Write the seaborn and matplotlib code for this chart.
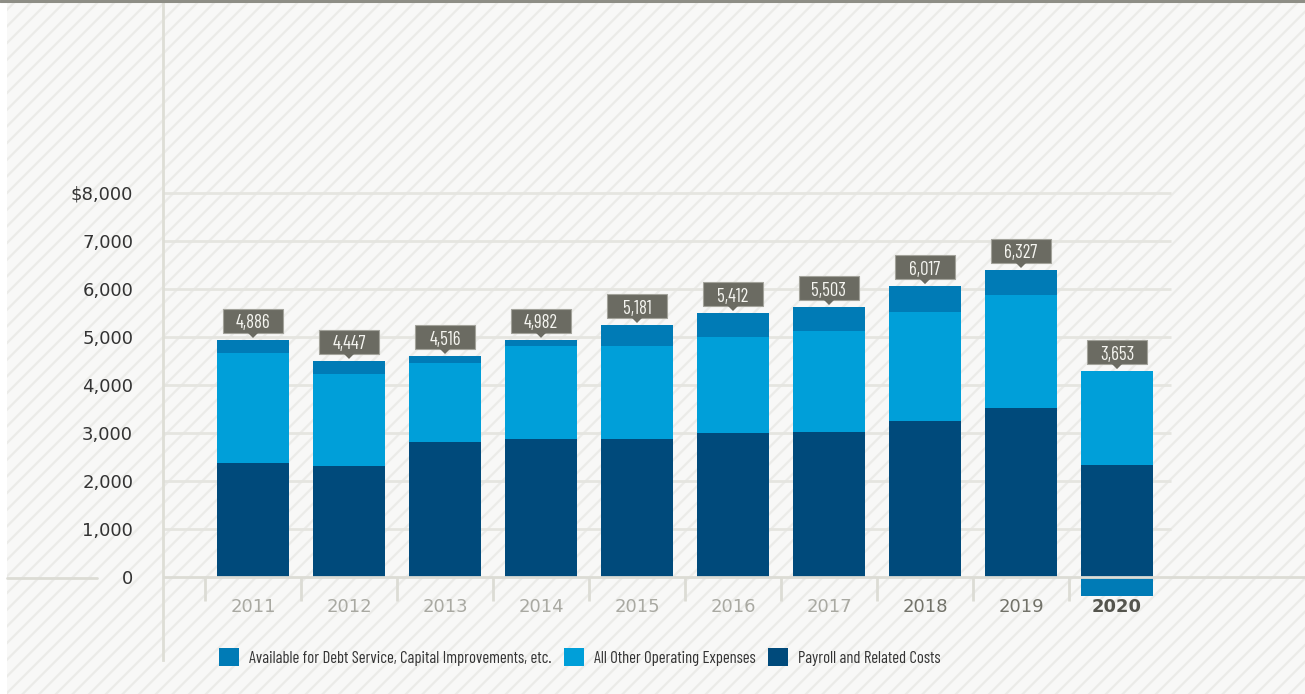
import matplotlib
matplotlib.use("Agg")
import matplotlib.pyplot as plt
import matplotlib.transforms as mtransforms
from matplotlib.patches import Rectangle, Polygon, Patch
from matplotlib.lines import Line2D
import numpy as np
import pandas as pd
import seaborn as sns

# ---------------- data ----------------
years = ["2011", "2012", "2013", "2014", "2015", "2016", "2017", "2018", "2019", "2020"]
payroll = [2375, 2313, 2813, 2875, 2875, 3000, 3020, 3250, 3520, 2330]
other_opex = [2292, 1917, 1652, 1935, 1935, 2000, 2105, 2270, 2355, 1960]
available = [271, 271, 139, 130, 440, 500, 500, 540, 521, -400]
total_labels = ["4,886", "4,447", "4,516", "4,982", "5,181", "5,412", "5,503", "6,017", "6,327", "3,653"]
series_names = ["Available for Debt Service, Capital Improvements, etc.",
                "All Other Operating Expenses",
                "Payroll and Related Costs"]
ytick_vals = [0, 1000, 2000, 3000, 4000, 5000, 6000, 7000, 8000]
ytick_labels = ["0", "1,000", "2,000", "3,000", "4,000", "5,000", "6,000", "7,000", "$8,000"]

C_AV = "#007bb6"
C_OT = "#009fd9"
C_PR = "#004a7b"
BOX = "#6b6b62"

df = pd.DataFrame({"year": years, "payroll": payroll, "other": other_opex, "avail": available})
df["top_other"] = df["payroll"] + df["other"]
df["top_all"] = df["top_other"] + df["avail"].clip(lower=0)
df["neg"] = df["avail"].clip(upper=0)

sns.set_style("white")
COND = ["Barlow Condensed", "DejaVu Sans"]
WIDE = ["DejaVu Sans"]
plt.rcParams["font.family"] = WIDE
plt.rcParams["hatch.linewidth"] = 1.6

W, H = 1305, 694
fig = plt.figure(figsize=(W / 100, H / 100), dpi=100)
fig.patch.set_facecolor("white")

# hatched background
bg = Rectangle((7 / W, 0), 1 - 7 / W, 1 - 2 / H, transform=fig.transFigure,
               facecolor="#f8f8f7", edgecolor="#ebebe8", hatch="//", linewidth=0, zorder=-10)
fig.patches.append(bg)
fig.add_artist(Line2D([0, 1], [1 - 1 / H, 1 - 1 / H], color="#8e8e86", lw=2.2, transform=fig.transFigure))

ax = fig.add_axes([163 / W, 34 / H, (W - 163) / W, 660 / H])
ax.set_facecolor("none")

kw = dict(order=years, width=0.75, saturation=1, errorbar=None, ax=ax, zorder=3, linewidth=0)
sns.barplot(data=df, x="year", y="top_all", color=C_AV, **kw)
sns.barplot(data=df, x="year", y="top_other", color=C_OT, **kw)
sns.barplot(data=df, x="year", y="payroll", color=C_PR, **kw)
sns.barplot(data=df, x="year", y="neg", color=C_AV, **kw)

x_right_grid = 9 + (1171 - 1117) / 96
ax.set_xlim(-0.9375, 9 + (W - 1117) / 96)
ax.set_ylim(-83 / 48 * 1000, 577 / 48 * 1000)

for v in ytick_vals[1:]:
    ax.hlines(v, -0.9375, x_right_grid, color="#e5e5e0", lw=2, zorder=1)
ax.axhline(0, color="#dcdcd5", lw=2, zorder=4)
fig.add_artist(Line2D([7 / W, 97 / W], [1 - 577.5 / H, 1 - 577.5 / H], color="#dcdcd5", lw=2,
                      transform=fig.transFigure))
ax.vlines([i - 0.5 for i in range(len(years))], -500, 0, color="#dcdcd5", lw=2, zorder=2)

ax.set_yticks(ytick_vals)
ax.set_yticklabels(ytick_labels)
ax.tick_params(axis="y", length=0, pad=21.5, labelsize=13, labelcolor="#333333")
ax.set_xticks([])
ax.set_xlabel("")
ax.set_ylabel("")
for s in ["top", "right", "bottom"]:
    ax.spines[s].set_visible(False)
ax.spines["left"].set_color("#deded6")
ax.spines["left"].set_linewidth(2)

# x labels
xcolors = ["#a9a9a2"] * 7 + ["#727269", "#727269", "#55554e"]
for i, yr in enumerate(years):
    ax.annotate(yr, xy=(i, 0), xytext=(0, -30.5 * 0.72), textcoords="offset points",
                ha="center", va="center", fontsize=13, color=xcolors[i],
                fontweight="bold" if yr == "2020" else "normal")

# value callouts
for i, (lab, top) in enumerate(zip(total_labels, df["top_all"])):
    tr = fig.dpi_scale_trans + mtransforms.ScaledTranslation(i, top, ax.transData)
    ax.add_patch(Rectangle((-0.30, 0.07), 0.60, 0.24, transform=tr, facecolor=BOX,
                           edgecolor="#a3a39b", lw=0.8, zorder=6, clip_on=False))
    ax.add_patch(Polygon([(-0.055, 0.075), (0.055, 0.075), (0, 0.02)], closed=True, transform=tr,
                         facecolor=BOX, edgecolor="none", zorder=7, clip_on=False))
    ax.text(0, 0.185, lab, transform=tr, ha="center", va="center_baseline", fontsize=13.5,
            color="#f5f5f0", family=COND, zorder=8)

# legend
handles = [Patch(facecolor=c, edgecolor="none") for c in (C_AV, C_OT, C_PR)]
leg = fig.legend(handles, series_names, loc="center left", bbox_to_anchor=(219 / W, 1 - 657 / H),
                 bbox_transform=fig.transFigure, ncol=3, frameon=False,
                 prop={"family": COND, "size": 12}, handlelength=1.2, handleheight=1.2,
                 handletextpad=0.6, columnspacing=0.75, borderpad=0, borderaxespad=0)
for t in leg.get_texts():
    t.set_color("#333333")

fig.savefig("out.png", dpi=100)
